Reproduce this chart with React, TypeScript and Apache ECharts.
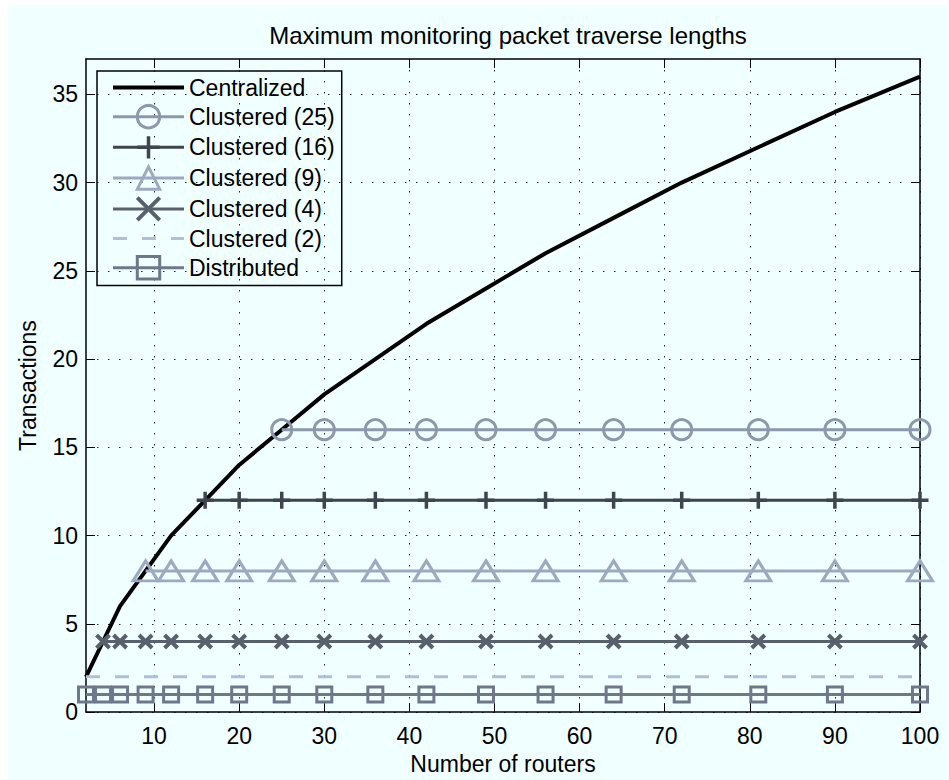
import React, { useEffect, useRef } from "react";
import * as echarts from "echarts";

const routers = [2, 4, 6, 9, 12, 16, 20, 25, 30, 36, 42, 49, 56, 64, 72, 81, 90, 100];
const centralized = [2, 4, 6, 8, 10, 12, 14, 16, 18, 20, 22, 24, 26, 28, 30, 32, 34, 36];
const clustered25 = [null, null, null, null, null, null, null, 16, 16, 16, 16, 16, 16, 16, 16, 16, 16, 16];
const clustered16 = [null, null, null, null, null, 12, 12, 12, 12, 12, 12, 12, 12, 12, 12, 12, 12, 12];
const clustered9 = [null, null, null, 8, 8, 8, 8, 8, 8, 8, 8, 8, 8, 8, 8, 8, 8, 8];
const clustered4 = [null, 4, 4, 4, 4, 4, 4, 4, 4, 4, 4, 4, 4, 4, 4, 4, 4, 4];
const clustered2 = [2, 2, 2, 2, 2, 2, 2, 2, 2, 2, 2, 2, 2, 2, 2, 2, 2, 2];
const distributed = [1, 1, 1, 1, 1, 1, 1, 1, 1, 1, 1, 1, 1, 1, 1, 1, 1, 1];

const xTicks = [10, 20, 30, 40, 50, 60, 70, 80, 90, 100];
const yTicks = [0, 5, 10, 15, 20, 25, 30, 35];

const FONT = "Liberation Sans, Arial, Helvetica, sans-serif";
const BG = "#F0FFFF";

function pairs(ys: (number | null)[]) {
  const out: number[][] = [];
  ys.forEach((y, i) => {
    if (y !== null) out.push([routers[i], y]);
  });
  return out;
}

export default function App() {
  const ref = useRef<HTMLDivElement>(null);
  useEffect(() => {
    if (!ref.current) return;
    const chart = echarts.init(ref.current, null, { renderer: "svg" });

    const mk = (
      name: string,
      ys: (number | null)[],
      color: string,
      width: number,
      symbol: string,
      size: any,
      bw: number,
      dashed?: number[]
    ) => ({
      name,
      type: "line",
      data: pairs(ys),
      clip: false,
      symbol,
      symbolSize: size,
      showSymbol: symbol !== "none",
      lineStyle: { color, width, type: dashed ? dashed : "solid" },
      itemStyle: { color: "transparent", borderColor: color, borderWidth: bw },
      emphasis: { disabled: true },
    });

    const axisCommon = {
      axisLine: { show: true, onZero: false, lineStyle: { color: "#000", width: 1.5 } },
    };

    const legItem = (name: string, lw: number, bw: number) => ({
      name,
      lineStyle: { width: lw },
      itemStyle: { borderWidth: bw },
    });

    chart.setOption({
      animation: false,
      backgroundColor: "#fff",
      graphic: [
        {
          type: "rect",
          z: -10,
          silent: true,
          shape: { x: 8, y: 5, width: 941, height: 775 },
          style: { fill: BG },
        },
      ],
      title: {
        text: "Maximum monitoring packet traverse lengths",
        left: 503,
        top: 18,
        textAlign: "center",
        textStyle: { fontFamily: FONT, fontSize: 24, fontWeight: "normal", color: "#000" },
      },
      grid: { left: 86, right: 29, top: 59, bottom: 66, containLabel: false },
      legend: {
        orient: "vertical",
        left: 97,
        top: 71,
        padding: [5, 7, 5, 14],
        itemWidth: 71,
        itemHeight: 28,
        itemGap: 5,
        borderColor: "#000",
        borderWidth: 1.5,
        backgroundColor: "transparent",
        textStyle: { fontFamily: FONT, fontSize: 23, color: "#000" },
        data: [
          legItem("Centralized", 4, 0),
          legItem("Clustered (25)", 3, 3),
          legItem("Clustered (16)", 3, 3.5),
          legItem("Clustered (9)", 3, 3),
          legItem("Clustered (4)", 3, 4),
          legItem("Clustered (2)", 3, 0),
          legItem("Distributed", 3, 3),
        ],
      },
      xAxis: [
        {
          type: "value",
          min: 2,
          max: 100,
          position: "bottom",
          name: "Number of routers",
          nameLocation: "middle",
          nameGap: 35,
          nameTextStyle: { fontFamily: FONT, fontSize: 23, color: "#000" },
          ...axisCommon,
          axisTick: { show: true, inside: true, length: 9, customValues: xTicks, lineStyle: { color: "#000", width: 1 } },
          axisLabel: { customValues: xTicks, fontFamily: FONT, fontSize: 23, color: "#000", margin: 12 },
          splitLine: { show: true, lineStyle: { color: "#222", width: 1, type: [1.5, 9.5] } },
        },
        {
          type: "value",
          min: 2,
          max: 100,
          position: "top",
          ...axisCommon,
          axisTick: { show: true, inside: true, length: 9, customValues: xTicks, lineStyle: { color: "#000", width: 1 } },
          axisLabel: { show: false, customValues: xTicks },
          splitLine: { show: false },
        },
      ],
      yAxis: [
        {
          type: "value",
          min: 0,
          max: 37,
          position: "left",
          name: "Transactions",
          nameLocation: "middle",
          nameGap: 47,
          nameTextStyle: { fontFamily: FONT, fontSize: 23, color: "#000" },
          ...axisCommon,
          axisTick: { show: true, inside: true, length: 9, customValues: yTicks, lineStyle: { color: "#000", width: 1 } },
          axisLabel: { customValues: yTicks, fontFamily: FONT, fontSize: 23, color: "#000", margin: 8 },
          splitLine: { show: true, lineStyle: { color: "#222", width: 1, type: [1.5, 9.5] } },
        },
        {
          type: "value",
          min: 0,
          max: 37,
          position: "right",
          ...axisCommon,
          axisTick: { show: true, inside: true, length: 9, customValues: yTicks, lineStyle: { color: "#000", width: 1 } },
          axisLabel: { show: false, customValues: yTicks },
          splitLine: { show: false },
        },
      ],
      series: [
        mk("Centralized", centralized, "#000000", 4, "none", 0, 0),
        mk("Clustered (25)", clustered25, "#8C98AC", 3, "circle", 20, 3),
        mk("Clustered (16)", clustered16, "#3E4450", 3, "path://M5,0L5,10M0,5L10,5", 17, 3.5),
        mk("Clustered (9)", clustered9, "#9BAAC0", 3, "triangle", [25, 20], 3),
        mk("Clustered (4)", clustered4, "#58606E", 3, "path://M0,0L10,10M10,0L0,10", 13, 4),
        mk("Clustered (2)", clustered2, "#B0BED8", 3, "none", 0, 0, [14, 15]),
        mk("Distributed", distributed, "#6E788A", 3, "rect", 15, 3),
      ],
    });
    return () => chart.dispose();
  }, []);
  return (
    <div
      ref={ref}
      style={{ position: "absolute", left: 0, top: 0, width: 949, height: 780 }}
    />
  );
}
